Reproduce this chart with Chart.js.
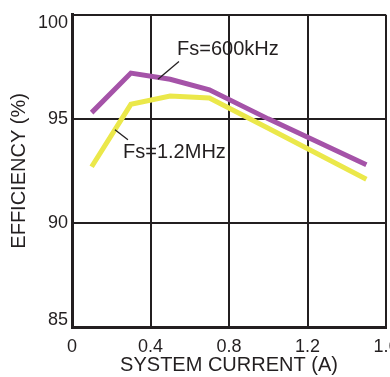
<!DOCTYPE html>
<html>
<head>
<meta charset="utf-8">
<script src="https://cdn.jsdelivr.net/npm/chart.js@4"></script>
<style>
  html, body { margin: 0; padding: 0; background: #fff; }
  #wrap { width: 390px; height: 377px; }
</style>
</head>
<body>
<div id="wrap"><canvas id="effChart"></canvas></div>
<script>
// data
var currentA = [0.1, 0.3, 0.5, 0.7, 1.0, 1.5];
var eff600k = [95.3, 97.2, 96.9, 96.4, 95.0, 92.8];
var eff1M2 = [92.7, 95.7, 96.1, 96.0, 94.55, 92.1];

var xTicks = [0, 0.4, 0.8, 1.2, 1.6];
var yTicks = [85, 90, 95, 100];

var ink = "#231f20";

function pts(xs, ys) {
  return xs.map(function(x, i) { return {x: x, y: ys[i]}; });
}

// callout labels with their leader lines (data coords)
var callouts = [
  {text: "Fs=600kHz", at: [0.535, 98.33], line: [[0.545, 97.76], [0.438, 96.9]]},
  {text: "Fs=1.2MHz", at: [0.26, 93.4], line: [[0.219, 94.48], [0.285, 94.0]]}
];

var calloutPlugin = {
  id: "callouts",
  beforeDraw: function(chart) {
    // end labels on the y axis sit inside the frame, like the original
    var items = chart.scales.y.getLabelItems(chart.chartArea);
    items.forEach(function(it) {
      if (it.label === "100") it.options.translation[1] += 8;
      if (it.label === "85") it.options.translation[1] -= 7;
    });
  },
  afterDraw: function(chart) {
    var ctx = chart.ctx, xs = chart.scales.x, ys = chart.scales.y;
    ctx.save();
    ctx.fillStyle = ink;
    ctx.strokeStyle = ink;
    ctx.lineWidth = 1.3;
    ctx.font = "20px 'Liberation Sans', Arial, sans-serif";
    ctx.textBaseline = "middle";
    ctx.textAlign = "left";
    callouts.forEach(function(c) {
      ctx.beginPath();
      ctx.moveTo(xs.getPixelForValue(c.line[0][0]), ys.getPixelForValue(c.line[0][1]));
      ctx.lineTo(xs.getPixelForValue(c.line[1][0]), ys.getPixelForValue(c.line[1][1]));
      ctx.stroke();
      ctx.fillText(c.text, xs.getPixelForValue(c.at[0]), ys.getPixelForValue(c.at[1]));
    });
    ctx.restore();
  }
};

var tickFont = {family: "'Liberation Sans', Arial, sans-serif", size: 18};
var titleFont = {family: "'Liberation Sans', Arial, sans-serif", size: 20};

var chart = new Chart(document.getElementById("effChart"), {
  type: "scatter",
  data: {
    datasets: [
      {
        label: "Fs=600kHz",
        data: pts(currentA, eff600k),
        showLine: true,
        borderColor: "#a553a8",
        borderWidth: 5,
        pointRadius: 0,
        tension: 0
      },
      {
        label: "Fs=1.2MHz",
        data: pts(currentA, eff1M2),
        showLine: true,
        borderColor: "#ebe84a",
        borderWidth: 5,
        pointRadius: 0,
        tension: 0
      }
    ]
  },
  options: {
    responsive: true,
    maintainAspectRatio: false,
    animation: false,
    layout: {padding: {top: 12, right: 4, left: 0, bottom: 0}},
    plugins: {
      legend: {display: false},
      tooltip: {enabled: false}
    },
    scales: {
      x: {
        type: "linear",
        min: 0,
        max: 1.6,
        z: 1,
        afterBuildTicks: function(s) { s.ticks = xTicks.map(function(v) { return {value: v}; }); },
        afterFit: function(s) { s.height = 50; s.paddingRight = 0; s.paddingLeft = 0; },
        grid: {color: ink, lineWidth: 2, drawTicks: false},
        border: {color: ink, width: 3},
        ticks: {
          color: ink,
          font: tickFont,
          padding: 9,
          maxRotation: 0,
          callback: function(v) { return v === 0 ? "0" : String(v); }
        },
        title: {
          display: true,
          text: "SYSTEM CURRENT (A)",
          color: ink,
          font: titleFont,
          padding: {top: 0, bottom: 0}
        }
      },
      y: {
        type: "linear",
        min: 85,
        max: 100,
        z: 1,
        afterBuildTicks: function(s) { s.ticks = yTicks.map(function(v) { return {value: v}; }); },
        afterFit: function(s) { s.width = 72; },
        grid: {color: ink, lineWidth: 2, drawTicks: false},
        border: {color: ink, width: 3},
        ticks: {
          color: ink,
          font: tickFont,
          padding: 4
        },
        title: {
          display: true,
          text: "EFFICIENCY (%)",
          color: ink,
          font: titleFont,
          padding: {top: 7, bottom: 0}
        }
      }
    }
  },
  plugins: [calloutPlugin]
});
</script>
</body>
</html>
